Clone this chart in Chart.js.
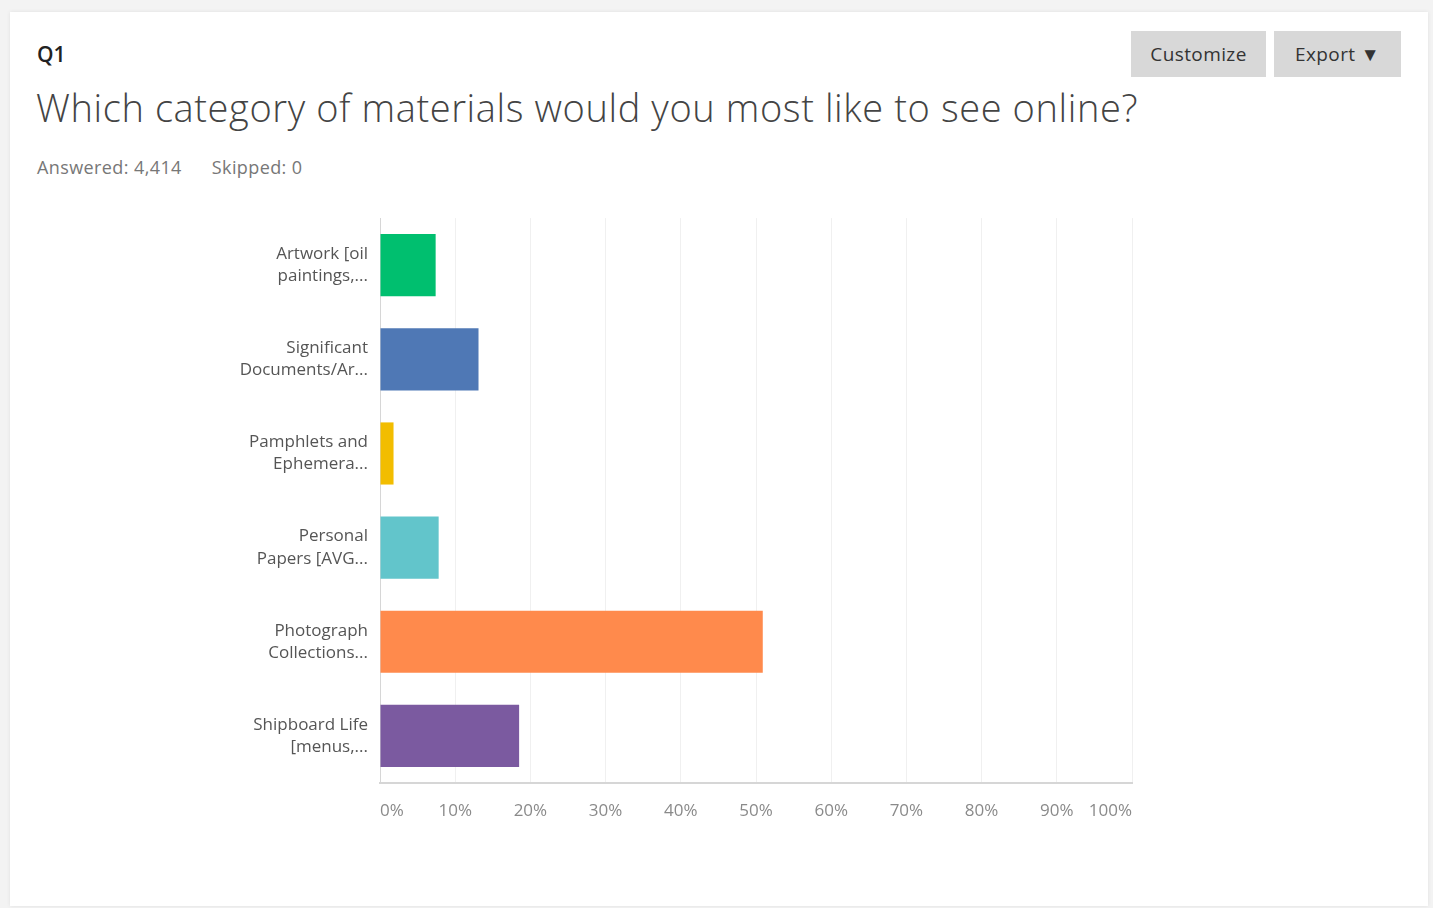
<!DOCTYPE html>
<html>
<head>
<meta charset="utf-8">
<script src="https://cdn.jsdelivr.net/npm/chart.js@4"></script>
<style>
  html, body { margin: 0; padding: 0; }
  body { width: 1433px; height: 908px; background: #f3f3f3; font-family: "Open Sans", sans-serif; position: relative; overflow: hidden; }
  #card { position: absolute; left: 10px; top: 12px; width: 1418px; height: 894px; background: #fff; box-shadow: 0 0 4px rgba(0,0,0,0.08); }
  #qnum { position: absolute; left: 27px; top: 28px; font-size: 21px; font-weight: 600; color: #222; }
  #qtitle { position: absolute; left: 26px; top: 69px; font-size: 38px; letter-spacing: 0.6px; font-weight: 300; color: #444; white-space: nowrap; }
  #stats { position: absolute; left: 27px; top: 143px; font-size: 18px; letter-spacing: 0.4px; color: #777; }
  #stats span { margin-right: 30px; }
  .btn { position: absolute; top: 19px; height: 46px; background: #d8d8d8; color: #333; font-size: 19px; letter-spacing: 0.4px; line-height: 46px; text-align: center; }
  #customize { left: 1121px; width: 135px; }
  #export { left: 1264px; width: 127px; }
  #chartBox { position: absolute; left: 190px; top: 172px; width: 950px; height: 666px; }
</style>
</head>
<body>
<div id="card">
  <div id="qnum">Q1</div>
  <div id="qtitle">Which category of materials would you most like to see online?</div>
  <div id="stats"><span>Answered: 4,414</span>Skipped: 0</div>
  <div class="btn" id="customize">Customize</div>
  <div class="btn" id="export">Export &#9660;</div>
  <div id="chartBox"><canvas id="myChart"></canvas></div>
</div>
<script>
'use strict';

let categories = [
  ['Artwork [oil', 'paintings,...'],
  ['Significant', 'Documents/Ar...'],
  ['Pamphlets and', 'Ephemera...'],
  ['Personal', 'Papers [AVG...'],
  ['Photograph', 'Collections...'],
  ['Shipboard Life', '[menus,...']
];
let percentValues = [7.4, 13.1, 1.8, 7.8, 50.9, 18.5];
let barColors = ['#00bf6f', '#4f78b5', '#f2bd00', '#62c5cb', '#ff8a4c', '#7b5aa0'];
let tickValues = [0, 10, 20, 30, 40, 50, 60, 70, 80, 90, 100];

function chartMaker() {
  const data = {
    labels: categories,
    datasets: [{
      data: percentValues,
      backgroundColor: barColors,
      borderWidth: 0,
      barPercentage: 0.66,
      categoryPercentage: 1
    }]
  };
  const config = {
    type: 'bar',
    data: data,
    options: {
      indexAxis: 'y',
      responsive: true,
      maintainAspectRatio: false,
      animation: false,
      layout: { padding: { top: 17, right: 10 } },
      plugins: {
        legend: { display: false },
        tooltip: { enabled: false }
      },
      scales: {
        x: {
          min: 0,
          max: 100,
          afterBuildTicks: function (scale) {
            scale.ticks = tickValues.map(function (v) { return { value: v }; });
          },
          afterFit: function (scale) { scale.height = 67; },
          grid: { color: '#f0f0f0', drawTicks: false },
          border: { color: '#d6d6d6', width: 2 },
          ticks: {
            align: 'inner',
            padding: 18,
            color: '#8a8a8a',
            font: { family: 'Open Sans', size: 17 },
            callback: function (v) { return v + '%'; }
          }
        },
        y: {
          afterFit: function (scale) { scale.width = 180; },
          grid: { display: false, drawTicks: false },
          border: { color: '#d6d6d6', width: 1 },
          ticks: {
            padding: 12,
            color: '#555',
            font: { family: 'Open Sans', size: 17, lineHeight: 1.3 }
          }
        }
      }
    }
  };
  new Chart(document.getElementById('myChart'), config);
}

chartMaker();
</script>
</body>
</html>
